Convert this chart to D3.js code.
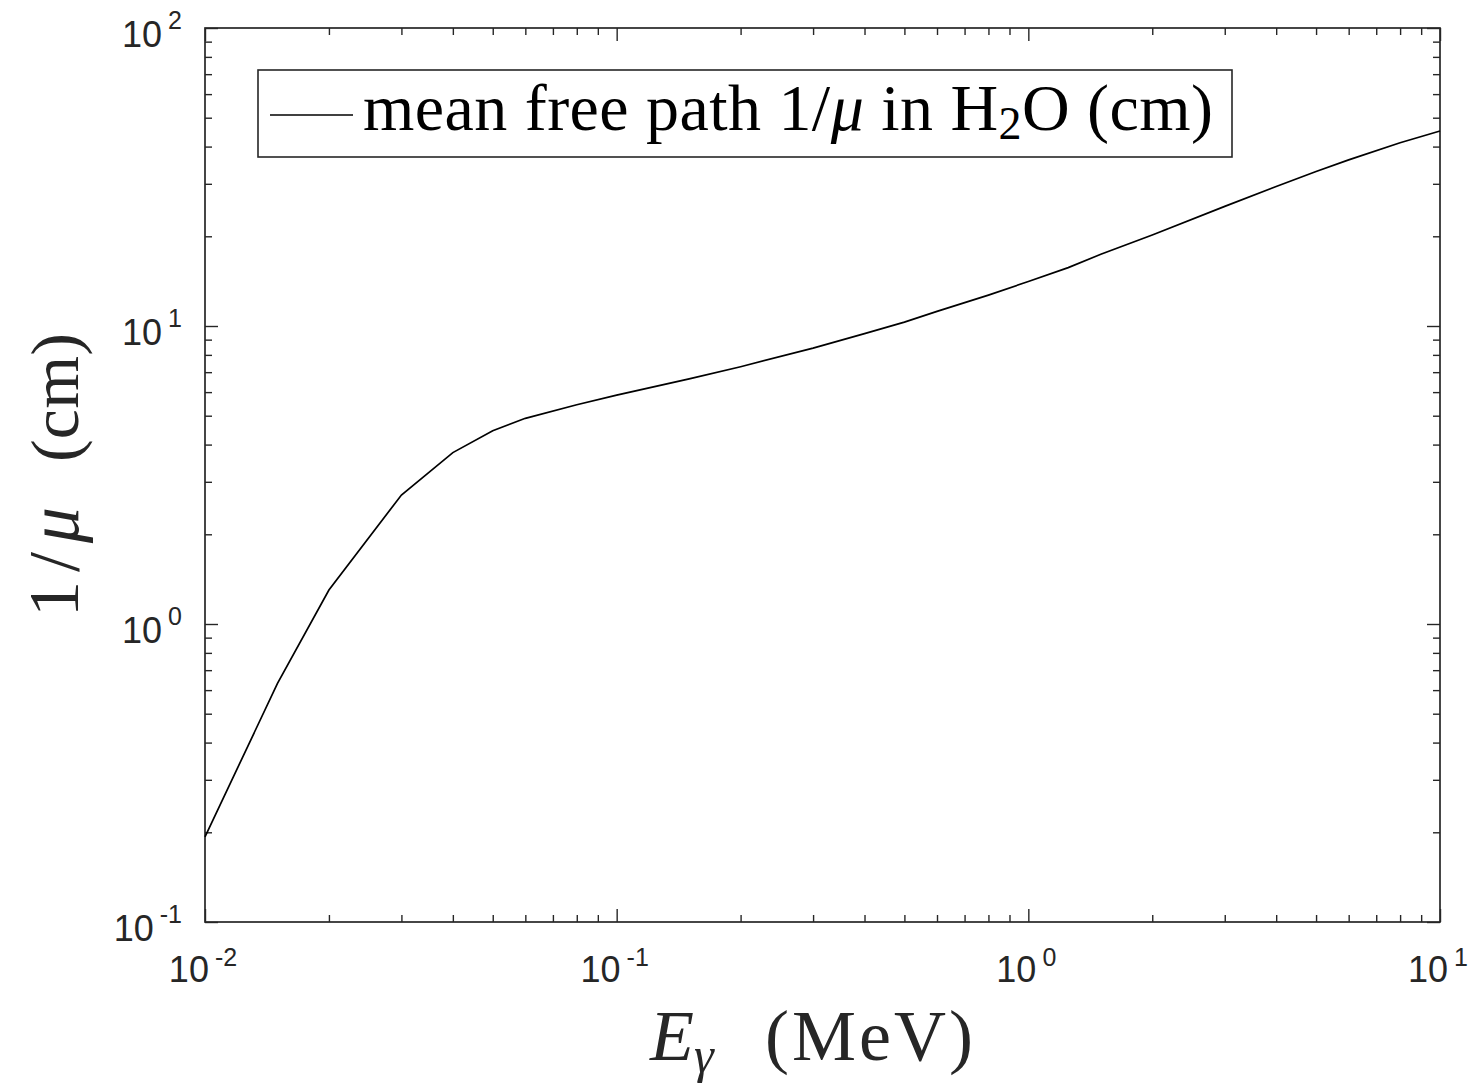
<!DOCTYPE html>
<html>
<head>
<meta charset="utf-8">
<script src="https://cdn.jsdelivr.net/npm/d3@7"></script>
<style>
  html, body { margin: 0; padding: 0; background: #fff; }
  svg { display: block; }
</style>
</head>
<body>
<svg id="chart" width="1472" height="1085"></svg>
<script>
// ---- data ----
const energyMeV = [0.01, 0.015, 0.02, 0.03, 0.04, 0.05, 0.06, 0.08, 0.1, 0.15, 0.2, 0.3, 0.4, 0.5, 0.6, 0.8, 1, 1.25, 1.5, 2, 3, 4, 5, 6, 8, 10];
const meanFreePath = [0.193, 0.632, 1.30, 2.71, 3.76, 4.45, 4.90, 5.44, 5.86, 6.65, 7.30, 8.43, 9.43, 10.3, 11.2, 12.7, 14.1, 15.7, 17.4, 20.2, 25.2, 29.4, 33.0, 36.1, 41.2, 45.1];
const xMajorTicks = [1e-2, 1e-1, 1e0, 1e1];
const xTickExponents = ["-2", "-1", "0", "1"];
const yMajorTicks = [1e-1, 1e0, 1e1, 1e2];
const yTickExponents = ["-1", "0", "1", "2"];

// ---- layout ----
const L = 205, R = 1440, T = 28, B = 922;
const axisColor = "#262626";
const svg = d3.select("#chart");

const x = d3.scaleLog().domain([1e-2, 1e1]).range([L, R]);
const y = d3.scaleLog().domain([1e-1, 1e2]).range([B, T]);

function minorTicks(lo, hi) {
  const out = [];
  for (let e = Math.log10(lo); e < Math.log10(hi); e++) {
    for (let k = 2; k <= 9; k++) out.push(k * Math.pow(10, e));
  }
  return out;
}
const xMinor = minorTicks(1e-2, 1e1);
const yMinor = minorTicks(1e-1, 1e2);

const g = svg.append("g");

const majorLen = 13, minorLen = 7;
function tickAxis(axisGen, transform) {
  const a = g.append("g").attr("transform", transform).call(axisGen);
  a.select(".domain").remove();
  a.selectAll("line").attr("stroke", axisColor).attr("stroke-width", 1.4);
  a.selectAll("text").remove();
  return a;
}
tickAxis(d3.axisBottom(x).tickValues(xMajorTicks).tickSize(-majorLen), `translate(0,${B})`);
tickAxis(d3.axisBottom(x).tickValues(xMinor).tickSize(-minorLen), `translate(0,${B})`);
tickAxis(d3.axisTop(x).tickValues(xMajorTicks).tickSize(-majorLen), `translate(0,${T})`);
tickAxis(d3.axisTop(x).tickValues(xMinor).tickSize(-minorLen), `translate(0,${T})`);
tickAxis(d3.axisLeft(y).tickValues(yMajorTicks).tickSize(-majorLen), `translate(${L},0)`);
tickAxis(d3.axisLeft(y).tickValues(yMinor).tickSize(-minorLen), `translate(${L},0)`);
tickAxis(d3.axisRight(y).tickValues(yMajorTicks).tickSize(-majorLen), `translate(${R},0)`);
tickAxis(d3.axisRight(y).tickValues(yMinor).tickSize(-minorLen), `translate(${R},0)`);

g.append("rect").attr("x", L).attr("y", T).attr("width", R - L).attr("height", B - T)
  .attr("fill", "none").attr("stroke", axisColor).attr("stroke-width", 1.7);

const line = d3.line().x((d, i) => x(energyMeV[i])).y(d => y(d));
g.append("path").datum(meanFreePath).attr("d", line)
  .attr("fill", "none").attr("stroke", "#000").attr("stroke-width", 1.7);

// tick labels
const tickFont = "'Liberation Sans', Arial, Helvetica, sans-serif";
xMajorTicks.forEach((v, i) => {
  const t = g.append("text").attr("font-family", tickFont).attr("fill", axisColor)
    .attr("text-anchor", "middle").attr("x", x(v) - 2).attr("y", B + 60);
  t.append("tspan").attr("font-size", 36).text("10");
  t.append("tspan").attr("font-size", 25).attr("dx", 6).attr("dy", -16).text(xTickExponents[i]);
});
yMajorTicks.forEach((v, i) => {
  const t = g.append("text").attr("font-family", tickFont).attr("fill", axisColor)
    .attr("text-anchor", "end").attr("x", 182).attr("y", y(v) + 19);
  t.append("tspan").attr("font-size", 36).text("10");
  t.append("tspan").attr("font-size", 25).attr("dx", 6).attr("dy", -18).text(yTickExponents[i]);
});

// axis labels
const serif = "'Liberation Serif', 'Times New Roman', serif";
const xl = g.append("text").attr("font-family", serif).attr("font-size", 72).attr("fill", axisColor)
  .attr("x", 650).attr("y", 1060);
xl.append("tspan").attr("font-style", "italic").text("E");
xl.append("tspan").attr("font-style", "italic").attr("font-size", 50).attr("dy", 12).text("γ");
g.append("text").attr("font-family", serif).attr("font-size", 72).attr("fill", axisColor)
  .attr("x", 765).attr("y", 1060).attr("textLength", 208).attr("lengthAdjust", "spacing")
  .text("(MeV)");

g.append("text").attr("font-family", serif).attr("font-size", 72).attr("fill", axisColor)
  .attr("transform", `translate(78,617) rotate(-90)`)
  .attr("textLength", 110).attr("lengthAdjust", "spacing")
  .call(t => { t.append("tspan").text("1/"); t.append("tspan").attr("font-style", "italic").text("μ"); });
g.append("text").attr("font-family", serif).attr("font-size", 68).attr("fill", axisColor)
  .attr("transform", `translate(78,462) rotate(-90)`)
  .attr("textLength", 129).attr("lengthAdjust", "spacing")
  .text("(cm)");

// legend
const lg = g.append("g");
lg.append("rect").attr("x", 258).attr("y", 70).attr("width", 1232 - 258).attr("height", 157 - 70)
  .attr("fill", "#fff").attr("stroke", axisColor).attr("stroke-width", 1.6);
lg.append("line").attr("x1", 270).attr("x2", 353).attr("y1", 115).attr("y2", 115)
  .attr("stroke", "#000").attr("stroke-width", 1.7);
const lt = lg.append("text").attr("font-family", serif).attr("font-size", 66).attr("fill", "#000")
  .attr("x", 363).attr("y", 130).attr("textLength", 850).attr("lengthAdjust", "spacing");
lt.append("tspan").text("mean free path 1/");
lt.append("tspan").attr("font-style", "italic").text("μ");
lt.append("tspan").text(" in H");
lt.append("tspan").attr("font-size", 46).attr("dy", 9).text("2");
lt.append("tspan").attr("dy", -9).text("O (cm)");
</script>
</body>
</html>
